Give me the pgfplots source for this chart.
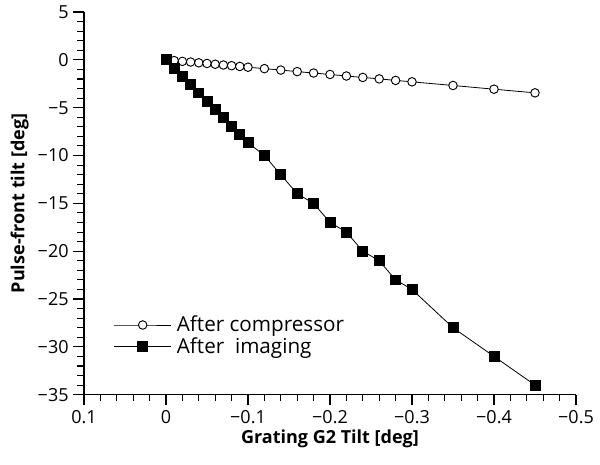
\documentclass[border=0pt]{standalone}
\usepackage{fontspec}
\setmainfont{Open Sans}
\usepackage{pgfplots}
\pgfplotsset{compat=1.18}
\begin{document}
\begin{tikzpicture}
\begin{axis}[
  scale only axis,
  width=369pt, height=287pt,
  x dir=reverse,
  xmin=-0.5, xmax=0.1, ymin=-35, ymax=5,
  axis x line*=bottom, axis y line*=left,
  axis line style={line width=0.8pt},
  xtick={-0.5,-0.4,-0.3,-0.2,-0.1,0,0.1},
  xticklabels={−0.5,−0.4,−0.3,−0.2,−0.1,0,0.1},
  ytick={-35,-30,-25,-20,-15,-10,-5,0,5},
  yticklabels={−35,−30,−25,−20,−15,−10,−5,0,5},
  minor x tick num=4, minor y tick num=4,
  tick align=outside,
  major tick length=8pt, minor tick length=5pt,
  tick style={line width=0.8pt, black},
  ticklabel style={font=\fontsize{13.5}{16}\selectfont},
  xlabel={\textbf{Grating G2 Tilt [deg]}},
  ylabel={\textbf{Pulse-front tilt [deg]}},
  label style={font=\fontsize{13.5}{16}\selectfont},
  xlabel style={yshift=2pt},
  legend style={at={(0.052,0.22)}, anchor=north west, draw=none, fill=none,
    font=\fontsize{15.5}{18}\selectfont, row sep=-1pt,
    nodes={inner xsep=4pt}},
  legend cell align=left,
  legend image code/.code={\draw[mark repeat=2,mark phase=2] plot coordinates {(0cm,0cm) (0.75cm,0cm) (1.5cm,0cm)};},
  clip=false,
]
\addplot[black, line width=0.6pt, mark=*, mark options={fill=white, line width=0.7pt}, mark size=3.2pt] coordinates {
(0,0) (-0.01,-0.08) (-0.02,-0.16) (-0.03,-0.23) (-0.04,-0.31) (-0.05,-0.38)
(-0.06,-0.46) (-0.07,-0.54) (-0.08,-0.61) (-0.09,-0.69) (-0.1,-0.77)
(-0.12,-0.92) (-0.14,-1.07) (-0.16,-1.23) (-0.18,-1.38) (-0.2,-1.53)
(-0.22,-1.69) (-0.24,-1.84) (-0.26,-1.99) (-0.28,-2.15) (-0.3,-2.3)
(-0.35,-2.68) (-0.4,-3.07) (-0.45,-3.45)};
\addlegendentry{After compressor}
\addplot[black, line width=0.6pt, mark=square*, mark options={fill=black}, mark size=3.7pt] coordinates {
(0,0) (-0.01,-0.9) (-0.02,-1.7) (-0.03,-2.6) (-0.04,-3.45) (-0.05,-4.3)
(-0.06,-5.2) (-0.07,-6.06) (-0.08,-6.93) (-0.09,-7.8) (-0.1,-8.67)
(-0.12,-10) (-0.14,-12) (-0.16,-14) (-0.18,-15) (-0.2,-17)
(-0.22,-18) (-0.24,-20) (-0.26,-21) (-0.28,-23) (-0.3,-24)
(-0.35,-28) (-0.4,-31) (-0.45,-34)};
\addlegendentry{After\ \ imaging}
\end{axis}
\pgfresetboundingbox
\path[use as bounding box] ([xshift=-63pt,yshift=-52.5pt]current axis.south west) rectangle ([xshift=18pt,yshift=9pt]current axis.north east);
\end{tikzpicture}
\end{document}
